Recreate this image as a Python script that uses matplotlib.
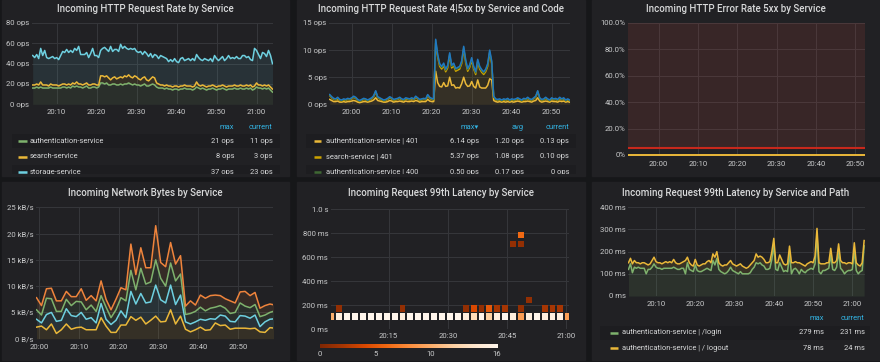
import numpy as np
import matplotlib
matplotlib.use("Agg")
import matplotlib.pyplot as plt
from matplotlib.patches import Rectangle
from matplotlib.ticker import FuncFormatter
from matplotlib.colors import Normalize

# ---- data -------------------------------------------------------------
# panel 1: incoming request rate (ops), sampled every 30 s from 20:04
req_minutes = np.arange(4, 64.01, 0.5)
auth_ops = [16, 16, 17, 16, 17, 16, 16, 16, 16, 17, 16, 16,
            16, 16, 16, 17, 17, 16, 17, 16, 18, 17, 18, 17,
            17, 16, 17, 18, 16, 16, 17, 17, 16, 17,
            21, 21, 20, 21, 19, 19, 20, 20, 19, 19,
            20, 19, 20, 20, 21, 20, 19, 20, 19, 19,
            18, 19, 20, 18, 18, 19, 20, 19, 17, 16,
            16, 16, 15, 16, 15, 15, 14, 15, 15, 14,
            15, 15, 16, 15, 15, 15, 14, 15, 17, 16,
            15, 16, 15, 14, 15, 15, 16, 15, 14, 15,
            15, 16, 15, 14, 15, 15, 15, 16, 15, 15,
            16, 15, 15, 16, 15, 16, 14, 15, 17, 16,
            16, 15, 16, 15, 16, 14, 12]
search_ops = [3, 3, 3, 3, 5, 3, 3, 3, 2, 3, 3, 3,
              3, 2, 3, 3, 3, 3, 3, 3, 3, 3, 4, 3,
              3, 3, 3, 3, 3, 3, 3, 3, 3, 2,
              7, 7, 7, 7, 7, 5, 6, 7, 6, 7,
              7, 7, 8, 7, 8, 7, 7, 8, 8, 6,
              6, 7, 7, 6, 5, 6, 7, 7, 4, 4,
              3, 3, 3, 3, 3, 3, 3, 3, 3, 3,
              3, 3, 3, 3, 3, 3, 3, 3, 5, 3,
              3, 3, 3, 3, 3, 3, 3, 3, 3, 3,
              3, 3, 3, 3, 3, 3, 3, 3, 3, 3,
              3, 3, 3, 3, 3, 3, 3, 3, 4, 3,
              3, 3, 3, 3, 3, 3, 3]
storage_ops = [29, 27, 29, 26, 33, 29, 34, 27, 27, 26, 28, 26,
               27, 26, 29, 32, 31, 35, 31, 34, 30, 35, 31, 37,
               29, 30, 29, 30, 27, 31, 35, 28, 29, 27,
               25, 27, 29, 26, 26, 33, 26, 27, 29, 26,
               32, 29, 29, 28, 25, 28, 28, 27, 25, 26,
               28, 23, 25, 26, 24, 25, 19, 23, 27, 25,
               29, 28, 28, 26, 24, 26, 25, 27, 24, 24,
               27, 28, 24, 26, 27, 25, 28, 25, 27, 27,
               26, 24, 27, 27, 25, 27, 23, 30, 28, 25,
               27, 28, 25, 28, 30, 27, 28, 26, 29, 27,
               26, 30, 30, 27, 29, 25, 26, 37, 32, 30,
               26, 33, 31, 29, 34, 31, 25]
req_legend = [("authentication-service", "21 ops", "11 ops"),
              ("search-service", "8 ops", "3 ops"),
              ("storage-service", "37 ops", "23 ops")]

# panel 2: 4xx/5xx rate (ops), every 30 s from 19:54:30
err_minutes = np.arange(-5.5, 54.51, 0.5)
auth_401 = [0.9, 0.7, 0.5, 0.5, 0.6, 0.4, 0.4, 0.5, 0.4, 0.5,
            0.5, 0.6, 0.7, 0.6, 0.4, 0.3, 0.4, 0.5, 0.5, 0.4,
            0.5, 0.6, 0.8, 1.2, 0.7, 0.6, 0.5, 0.4, 0.4, 0.5,
            0.7, 0.6, 0.4, 0.5, 0.5, 0.6, 0.5, 0.4, 0.6, 0.5,
            0.5, 0.6, 0.5, 0.7, 0.6, 0.4, 0.5, 0.5, 0.5, 0.9,
            0.6, 0.5, 0.5, 6.1, 4.0, 3.3, 3.2, 4.0, 3.3, 3.4,
            5.0, 3.5, 3.6, 3.0, 3.1, 3.0, 3.8, 5.0, 3.8, 3.3,
            3.4, 4.2, 3.3, 3.0, 4.5, 3.2, 3.0, 3.0, 3.0, 3.5,
            4.7, 4.5, 0.7, 0.5, 0.4, 0.5, 0.4, 0.5, 0.4, 0.5,
            0.4, 0.5, 0.4, 0.5, 0.6, 0.5, 0.4, 0.5, 0.5, 0.6,
            0.5, 0.4, 0.6, 0.7, 1.2, 0.6, 0.4, 0.5, 0.6, 0.5,
            0.4, 0.6, 0.5, 0.5, 0.4, 0.6, 0.5, 0.6, 0.4, 0.5, 0.4]
search_401 = [0.7, 0.5, 0.4, 0.3, 0.4, 0.3, 0.2, 0.3, 0.3, 0.4,
              0.3, 0.4, 0.6, 0.5, 0.3, 0.2, 0.3, 0.4, 0.3, 0.2,
              0.3, 0.4, 0.6, 1.1, 0.5, 0.4, 0.3, 0.2, 0.3, 0.4,
              0.5, 0.4, 0.3, 0.3, 0.4, 0.5, 0.3, 0.3, 0.4, 0.4,
              0.3, 0.4, 0.3, 0.6, 0.4, 0.3, 0.3, 0.4, 0.3, 0.7,
              0.5, 0.4, 0.3, 5.2, 4.7, 3.7, 3.3, 3.1, 2.7, 3.3,
              4.0, 3.2, 3.5, 3.1, 3.2, 3.5, 3.7, 5.2, 3.9, 2.8,
              3.4, 3.9, 3.2, 2.5, 3.3, 3.3, 2.9, 2.5, 3.0, 3.5,
              4.8, 3.0, 0.6, 0.3, 0.3, 0.3, 0.2, 0.3, 0.3, 0.4,
              0.2, 0.3, 0.3, 0.3, 0.4, 0.3, 0.2, 0.4, 0.3, 0.5,
              0.3, 0.3, 0.4, 0.6, 1.1, 0.4, 0.3, 0.3, 0.5, 0.3,
              0.2, 0.4, 0.3, 0.4, 0.3, 0.5, 0.3, 0.4, 0.2, 0.3, 0.2]
auth_400 = [0.1, 0.1, 0.1, 0.1, 0.2, 0.1, 0.1, 0.1, 0.1, 0.1,
            0.1, 0.1, 0.1, 0.1, 0.1, 0.1, 0.1, 0.1, 0.1, 0.1,
            0.1, 0.1, 0.1, 0.1, 0.1, 0.1, 0.1, 0.1, 0.1, 0.1,
            0.1, 0.1, 0.1, 0.1, 0.1, 0.1, 0.1, 0.1, 0.1, 0.1,
            0.1, 0.1, 0.1, 0.1, 0.1, 0.1, 0.1, 0.1, 0.1, 0.1,
            0.1, 0.1, 0.1, 0.5, 0.3, 0.3, 0.3, 0.3, 0.3, 0.3,
            0.3, 0.3, 0.3, 0.3, 0.3, 0.3, 0.3, 0.3, 0.3, 0.3,
            0.3, 0.3, 0.3, 0.3, 0.3, 0.3, 0.3, 0.3, 0.3, 0.3,
            0.3, 0.3, 0.1, 0.1, 0.1, 0.1, 0.1, 0.1, 0.1, 0.1,
            0.1, 0.1, 0.1, 0.1, 0.1, 0.1, 0.1, 0.1, 0.1, 0.1,
            0.1, 0.1, 0.1, 0.1, 0.1, 0.1, 0.1, 0.1, 0.1, 0.1,
            0.1, 0.1, 0.1, 0.1, 0.1, 0.1, 0.1, 0.1, 0.1, 0.1, 0.1]
search_400 = [0.1, 0.1, 0.1, 0.1, 0.1, 0.1, 0.1, 0.1, 0.1, 0.1,
              0.1, 0.1, 0.1, 0.1, 0.1, 0.1, 0.1, 0.1, 0.1, 0.1,
              0.1, 0.1, 0.1, 0.1, 0.1, 0.1, 0.1, 0.1, 0.1, 0.1,
              0.1, 0.1, 0.1, 0.1, 0.1, 0.1, 0.1, 0.1, 0.1, 0.1,
              0.1, 0.1, 0.1, 0.1, 0.1, 0.1, 0.1, 0.1, 0.1, 0.1,
              0.1, 0.1, 0.1, 0.2, 0.2, 0.2, 0.2, 0.2, 0.2, 0.2,
              0.2, 0.2, 0.2, 0.2, 0.2, 0.2, 0.2, 0.2, 0.2, 0.2,
              0.2, 0.2, 0.2, 0.2, 0.2, 0.2, 0.2, 0.2, 0.2, 0.2,
              0.2, 0.2, 0.1, 0.1, 0.1, 0.1, 0.1, 0.1, 0.1, 0.1,
              0.1, 0.1, 0.1, 0.1, 0.1, 0.1, 0.1, 0.1, 0.1, 0.1,
              0.1, 0.1, 0.1, 0.1, 0.1, 0.1, 0.1, 0.1, 0.1, 0.1,
              0.1, 0.1, 0.1, 0.1, 0.1, 0.1, 0.1, 0.1, 0.1, 0.1, 0.1]
code_legend = [("authentication-service | 401", "6.14 ops", "1.20 ops", "0.13 ops"),
               ("search-service | 401", "5.37 ops", "1.08 ops", "0.10 ops"),
               ("authentication-service | 400", "0.50 ops", "0.17 ops", "0 ops")]

# panel 3: 5xx error ratio (%), every 5 min from 19:52
ratio_minutes = [-8, -3, 2, 7, 12, 17, 22, 27, 32, 37, 42, 47, 52, 57]
ratio_5xx = [0, 0, 0, 0, 0, 0, 0, 0, 0, 0, 0, 0, 0, 0]
ratio_threshold = 5

# panel 4: network bytes (kB/s), every 75 s from 19:59:18
net_minutes = np.arange(-0.7, 59.4, 1.25)
net_s1 = [2.2, 2.4, 1.7, 2.8, 1.0, 1.7, 2.8, 1.8, 2.1, 2.2, 1.7, 1.7, 1.7, 4.0, 2.4, 1.2, 1.2,
          2.6, 2.6, 4.2, 3.5, 4.1, 2.8, 3.5, 4.3, 3.2, 3.3, 5.5, 2.8, 4.3, 1.8, 1.3, 1.7,
          2.2, 1.6, 1.7, 3.0, 2.5, 2.6, 1.8, 2.0, 2.0, 2.0, 1.9, 2.0, 1.3, 1.2, 2.1, 2.0]
net_s2 = [1.5, 0.6, 2.9, 2.2, 2.3, 1.8, 2.9, 2.6, 2.1, 2.8, 2.0, 2.3, 1.3, 2.7, 1.3, 1.5, 2.3,
          2.7, 1.4, 4.8, 3.1, 4.5, 4.0, 3.5, 5.9, 4.2, 3.5, 4.7, 3.7, 4.0, 1.4, 1.5, 1.5,
          1.5, 1.9, 2.1, 0.7, 2.0, 1.7, 1.5, 1.2, 2.4, 2.3, 2.0, 2.5, 1.0, 2.0, 1.6, 1.8]
net_s3 = [1.8, 1.5, 3.1, 2.6, 1.9, 1.7, 1.8, 1.9, 2.9, 2.0, 1.8, 2.4, 2.2, 1.5, 2.3, 1.3, 2.0,
          2.5, 3.2, 4.0, 2.7, 4.8, 3.6, 3.8, 4.8, 4.1, 3.2, 4.2, 4.5, 4.0, 1.4, 2.0, 2.0,
          2.3, 1.8, 2.0, 2.3, 1.8, 1.5, 1.5, 1.8, 2.4, 1.9, 2.0, 2.0, 1.9, 1.3, 1.3, 1.5]
net_s4 = [2.3, 1.8, 1.8, 2.0, 2.0, 2.0, 1.5, 1.7, 0.9, 2.5, 1.8, 1.8, 2.0, 2.8, 1.5, 1.5, 2.0,
          1.9, 2.1, 5.0, 2.9, 3.9, 3.1, 2.7, 6.5, 3.0, 3.7, 3.9, 3.2, 3.5, 1.6, 2.4, 1.2,
          2.3, 2.4, 2.4, 2.3, 1.9, 1.8, 2.4, 1.8, 2.1, 2.8, 2.3, 2.3, 1.6, 1.8, 1.6, 1.1]

# panel 5: latency heatmap, 2 min buckets from 20:00
heat_times = list(range(0, 61, 2))
heat_lo = [75, 143, 214, 686, 757]      # ms, lower edge of drawn bucket
heat_hi = [135, 200, 267, 737, 808]     # ms, upper edge of drawn bucket
heat_counts = [
    [10, 15, 16, 16, 16, 16, 16, 16, 16, 15, 16, 16, 16, 16, 16, 16,
     16, 15, 13, 16, 12, 15, 16, 15, 9, 15, 16, 15, 15, 15, 9],
    [0, 1, 0, 0, 0, 0, 0, 0, 0, 1, 0, 0, 0, 0, 0, 0,
     0, 1, 4, 1, 5, 2, 2, 0, 1, 0, 0, 2, 2, 2, 0],
    [0, 0, 0, 0, 0, 0, 0, 0, 0, 0, 0, 0, 0, 0, 0, 0,
     0, 0, 0, 0, 0, 0, 0, 0, 0, 1, 0, 0, 0, 0, 0],
    [0, 0, 0, 0, 0, 0, 0, 0, 0, 0, 0, 0, 0, 0, 0, 0,
     0, 0, 0, 0, 0, 0, 0, 1, 1, 0, 0, 0, 0, 0, 0],
    [0, 0, 0, 0, 0, 0, 0, 0, 0, 0, 0, 0, 0, 0, 0, 0,
     0, 0, 0, 0, 0, 0, 0, 0, 6, 0, 0, 0, 0, 0, 0],
]
heat_scale_ticks = [0, 5, 10, 16]

# panel 6: latency by path (ms), every 30 s from 20:03
lat_minutes = np.arange(3, 63.01, 0.5)
login_ms = [120, 145, 105, 130, 125, 130, 125, 125, 125, 100, 120, 120, 130, 145, 130, 125,
            125, 120, 125, 125, 125, 125, 125, 130, 125, 120, 120, 125, 125, 100, 150, 120,
            115, 110, 140, 115, 110, 110, 115, 120, 125, 120, 115, 160, 140, 170, 120, 110,
            105, 100, 105, 115, 130, 115, 110, 105, 100, 110, 100, 100, 100, 100, 105, 120,
            130, 150, 145, 150, 140, 135, 120, 120, 125, 165, 230, 120, 115, 150, 130, 110,
            115, 110, 190, 100, 120, 125, 115, 100, 120, 110, 105, 115, 120, 125, 120, 145,
            279, 110, 100, 115, 115, 120, 125, 185, 120, 115, 130, 200, 125, 115, 100, 110,
            115, 115, 120, 205, 115, 100, 110, 115, 226]
logout_ms = [30, 25, 40, 30, 25, 20, 20, 25, 25, 45, 20, 25, 30, 30, 25, 25,
             25, 25, 25, 30, 25, 30, 25, 35, 25, 25, 25, 25, 30, 60, 25, 30,
             25, 25, 25, 25, 25, 30, 30, 25, 30, 40, 35, 30, 35, 30, 30, 30,
             30, 40, 35, 35, 30, 30, 30, 30, 40, 35, 35, 30, 25, 30, 35, 30,
             30, 40, 30, 30, 35, 30, 30, 30, 30, 35, 30, 30, 35, 35, 35, 35,
             25, 35, 35, 50, 30, 30, 35, 50, 25, 30, 30, 30, 30, 30, 30, 35,
             26, 40, 45, 30, 30, 30, 25, 30, 30, 35, 30, 35, 35, 35, 50, 35,
             35, 35, 25, 35, 35, 40, 25, 35, 24]
path_legend = [("authentication-service | /login", "279 ms", "231 ms"),
               ("authentication-service | / logout", "78 ms", "24 ms")]

# ---- style ------------------------------------------------------------
PAGE = '#161719'
PANEL = '#212124'
BAND = '#1d1d20'
TITLE = '#d8d9da'
TICK = '#c8c9ca'
GRID = '#36373b'
HEAD = '#33b5e5'
GREEN, YELLOW, CYAN, ORANGE = '#7eb26d', '#eab839', '#6ed0e0', '#ef843c'
DKYELLOW, DKGREEN, BLUE, RED = '#cca300', '#3f6833', '#1f78c1', '#e24d42'

plt.rcParams['font.family'] = ['Roboto', 'DejaVu Sans']
W, H = 880, 362
fig = plt.figure(figsize=(W / 100, H / 100), dpi=100)
fig.patch.set_facecolor(PAGE)


def frect(x0, y0, x1, y1):
    # pixel box, origin top-left -> figure fraction rect
    return [x0 / W, 1 - y1 / H, (x1 - x0) / W, (y1 - y0) / H]


def panel(x0, y0, x1, y1, title, ty):
    fig.add_artist(Rectangle((x0 / W, 1 - y1 / H), (x1 - x0) / W, (y1 - y0) / H,
                             transform=fig.transFigure, color=PANEL, zorder=0))
    fig.text((x0 + x1) / 2 / W, 1 - ty / H, title, color=TITLE, fontsize=7,
             fontweight='medium', ha='center', va='center')


def clock(m, _pos=None):
    m = int(round(m))
    return f"{20 + m // 60}:{m % 60:02d}"


def graph(rect, xlim, ylim, xticks, yticks, yfmt, xpad=3.6):
    ax = fig.add_axes(frect(*rect))
    ax.set_facecolor('none')
    for s in ax.spines.values():
        s.set_visible(False)
    ax.set_xlim(*xlim)
    ax.set_ylim(*ylim)
    ax.set_xticks(xticks)
    ax.set_yticks(yticks)
    ax.xaxis.set_major_formatter(FuncFormatter(clock))
    ax.yaxis.set_major_formatter(FuncFormatter(yfmt))
    ax.tick_params(axis='both', length=0, colors=TICK, labelsize=5.6)
    ax.tick_params(axis='x', pad=xpad)
    ax.tick_params(axis='y', pad=1.8)
    ax.grid(True, color=GRID, lw=0.7)
    ax.set_axisbelow(True)
    return ax


def stacked(ax, t, series, colors, alpha=0.1, lw=1.1):
    base = np.zeros(len(t))
    for vals, c in zip(series, colors):
        top = base + np.asarray(vals, dtype=float)
        ax.fill_between(t, base, top, color=c, alpha=alpha, lw=0)
        base = top
    base = np.zeros(len(t))
    for vals, c in zip(series, colors):
        base = base + np.asarray(vals, dtype=float)
        ax.plot(t, base, color=c, lw=lw)


def legend(box, head_y, headers, head_x, rows, row_y, val_x, colors, sw_x, txt_x, bands):
    x0, y0, x1, y1 = box
    ax = fig.add_axes(frect(*box))
    ax.set_xlim(x0, x1)
    ax.set_ylim(y1, y0)
    ax.axis('off')
    for by0, by1 in bands:
        ax.add_patch(Rectangle((x0, by0), x1 - x0, by1 - by0, color=BAND, lw=0))
    for h, hx in zip(headers, head_x):
        ax.text(hx, head_y, h, color=HEAD, fontsize=5.4, ha='right', va='center', clip_on=True)
    for (row, c, y) in zip(rows, colors, row_y):
        ax.plot(sw_x, [y, y], color=c, lw=1.8, solid_capstyle='butt', clip_on=True)
        ax.text(txt_x, y, row[0], color=TITLE, fontsize=5.4, ha='left', va='center', clip_on=True)
        for v, vx in zip(row[1:], val_x):
            ax.text(vx, y, v, color=TITLE, fontsize=5.4, ha='right', va='center', clip_on=True)


ops_fmt = lambda v, p=None: f"{v:g} ops"

# ---- panel 1 ----------------------------------------------------------
panel(2, 0, 289, 176, "Incoming HTTP Request Rate by Service", 9)
ax1 = graph((31.7, 23, 273.3, 104.3), (3.75, 64.2), (0, 80),
            [10, 20, 30, 40, 50, 60], [0, 20, 40, 60, 80], ops_fmt)
stacked(ax1, req_minutes, [auth_ops, search_ops, storage_ops], [GREEN, YELLOW, CYAN])
legend((12, 120, 280, 174), 127.3, ["max", "current"], [234, 272.7], req_legend,
       [141, 156.7, 172.3], [234, 272.7], [GREEN, YELLOW, CYAN], [18, 26.5], 30,
       [(134, 148), (165, 180)])

# ---- panel 2 ----------------------------------------------------------
panel(297, 0, 585, 176, "Incoming HTTP Request Rate 4|5xx by Service and Code", 9)
ax2 = graph((329, 23, 569.7, 104.3), (-5.67, 54.5), (0, 15),
            [0, 10, 20, 30, 40, 50], [0, 5, 10, 15], ops_fmt)
stacked(ax2, err_minutes, [auth_401, search_401, auth_400, search_400],
        [YELLOW, DKYELLOW, DKGREEN, BLUE], alpha=0.1)
legend((306, 120, 576, 174), 127.3, ["max\u25be", "avg", "current"], [479, 524, 569],
       code_legend, [141, 156.7, 172.3], [479, 524, 569], [YELLOW, DKYELLOW, DKGREEN],
       [313.7, 321.3], 326.3, [(134, 148), (165, 180)])

# ---- panel 3 ----------------------------------------------------------
panel(592, 0, 880, 176, "Incoming HTTP Error Rate 5xx by Service", 9)
pct_fmt = lambda v, p=None: "0%" if v == 0 else f"{v:.1f}%"
ax3 = graph((628, 23, 865.3, 156.3), (-7.8, 52.6), (-1, 100),
            [0, 10, 20, 30, 40, 50], [0, 20, 40, 60, 80, 100], pct_fmt)
ax3.axhspan(ratio_threshold, 100, color=RED, alpha=0.12, lw=0)
ax3.axhline(ratio_threshold, color='#c8281c', lw=1.5)
ax3.plot(ratio_minutes, ratio_5xx, color=YELLOW, lw=1.4)

# ---- panel 4 ----------------------------------------------------------
panel(2, 182, 289, 360, "Incoming Network Bytes by Service", 193)
kb_fmt = lambda v, p=None: "0 B/s" if v == 0 else f"{v:g} kB/s"
ax4 = graph((36, 207.3, 273.3, 338.7), (-0.83, 58.9), (0, 25),
            [0, 10, 20, 30, 40, 50], [0, 5, 10, 15, 20, 25], kb_fmt)
stacked(ax4, net_minutes, [net_s1, net_s2, net_s3, net_s4], [YELLOW, CYAN, GREEN, ORANGE])

# ---- panel 5 ----------------------------------------------------------
panel(297, 182, 585, 360, "Incoming Request 99th Latency by Service", 193)
lat_fmt = lambda v, p=None: f"{v / 1000:.1f} s" if v >= 1000 else f"{v:g} ms"
ax5 = graph((330.7, 209, 568.7, 329), (0.3, 60.6), (0, 1000),
            [15, 30, 45, 60], [0, 200, 400, 600, 800, 1000], lat_fmt, xpad=3.2)
cmap = plt.get_cmap('Oranges_r')
norm = Normalize(0, 16)
for lo, hi, counts in zip(heat_lo, heat_hi, heat_counts):
    for t, c in zip(heat_times, counts):
        if c > 0:
            ax5.bar(t + 0.5, hi - lo, width=1.5, bottom=lo, color=cmap(norm(c)), lw=0)
axc = fig.add_axes(frect(320, 344, 497, 348))
axc.imshow(np.linspace(0, 16, 256)[None, :], aspect='auto', cmap=cmap, extent=[0, 16, 0, 1])
for s in axc.spines.values():
    s.set_visible(False)
axc.set_yticks([])
axc.set_xticks(heat_scale_ticks)
axc.tick_params(axis='x', length=0, colors=TICK, labelsize=5.6, pad=2.2)

# ---- panel 6 ----------------------------------------------------------
panel(592, 182, 880, 360, "Incoming Request 99th Latency by Service and Path", 193)
ax6 = graph((628.3, 207.3, 865.3, 296), (2.95, 63.3), (0, 400),
            [10, 20, 30, 40, 50, 60], [0, 100, 200, 300, 400], lat_fmt)
stacked(ax6, lat_minutes, [login_ms, logout_ms], [GREEN, YELLOW], alpha=0.12)
legend((600, 310, 870, 358), 318, ["max", "current"], [823.7, 864.7], path_legend,
       [333, 348], [823.7, 864.7], [GREEN, YELLOW], [610, 618], 622, [(325.7, 340)])

fig.savefig("out.png", dpi=100, facecolor=PAGE)
